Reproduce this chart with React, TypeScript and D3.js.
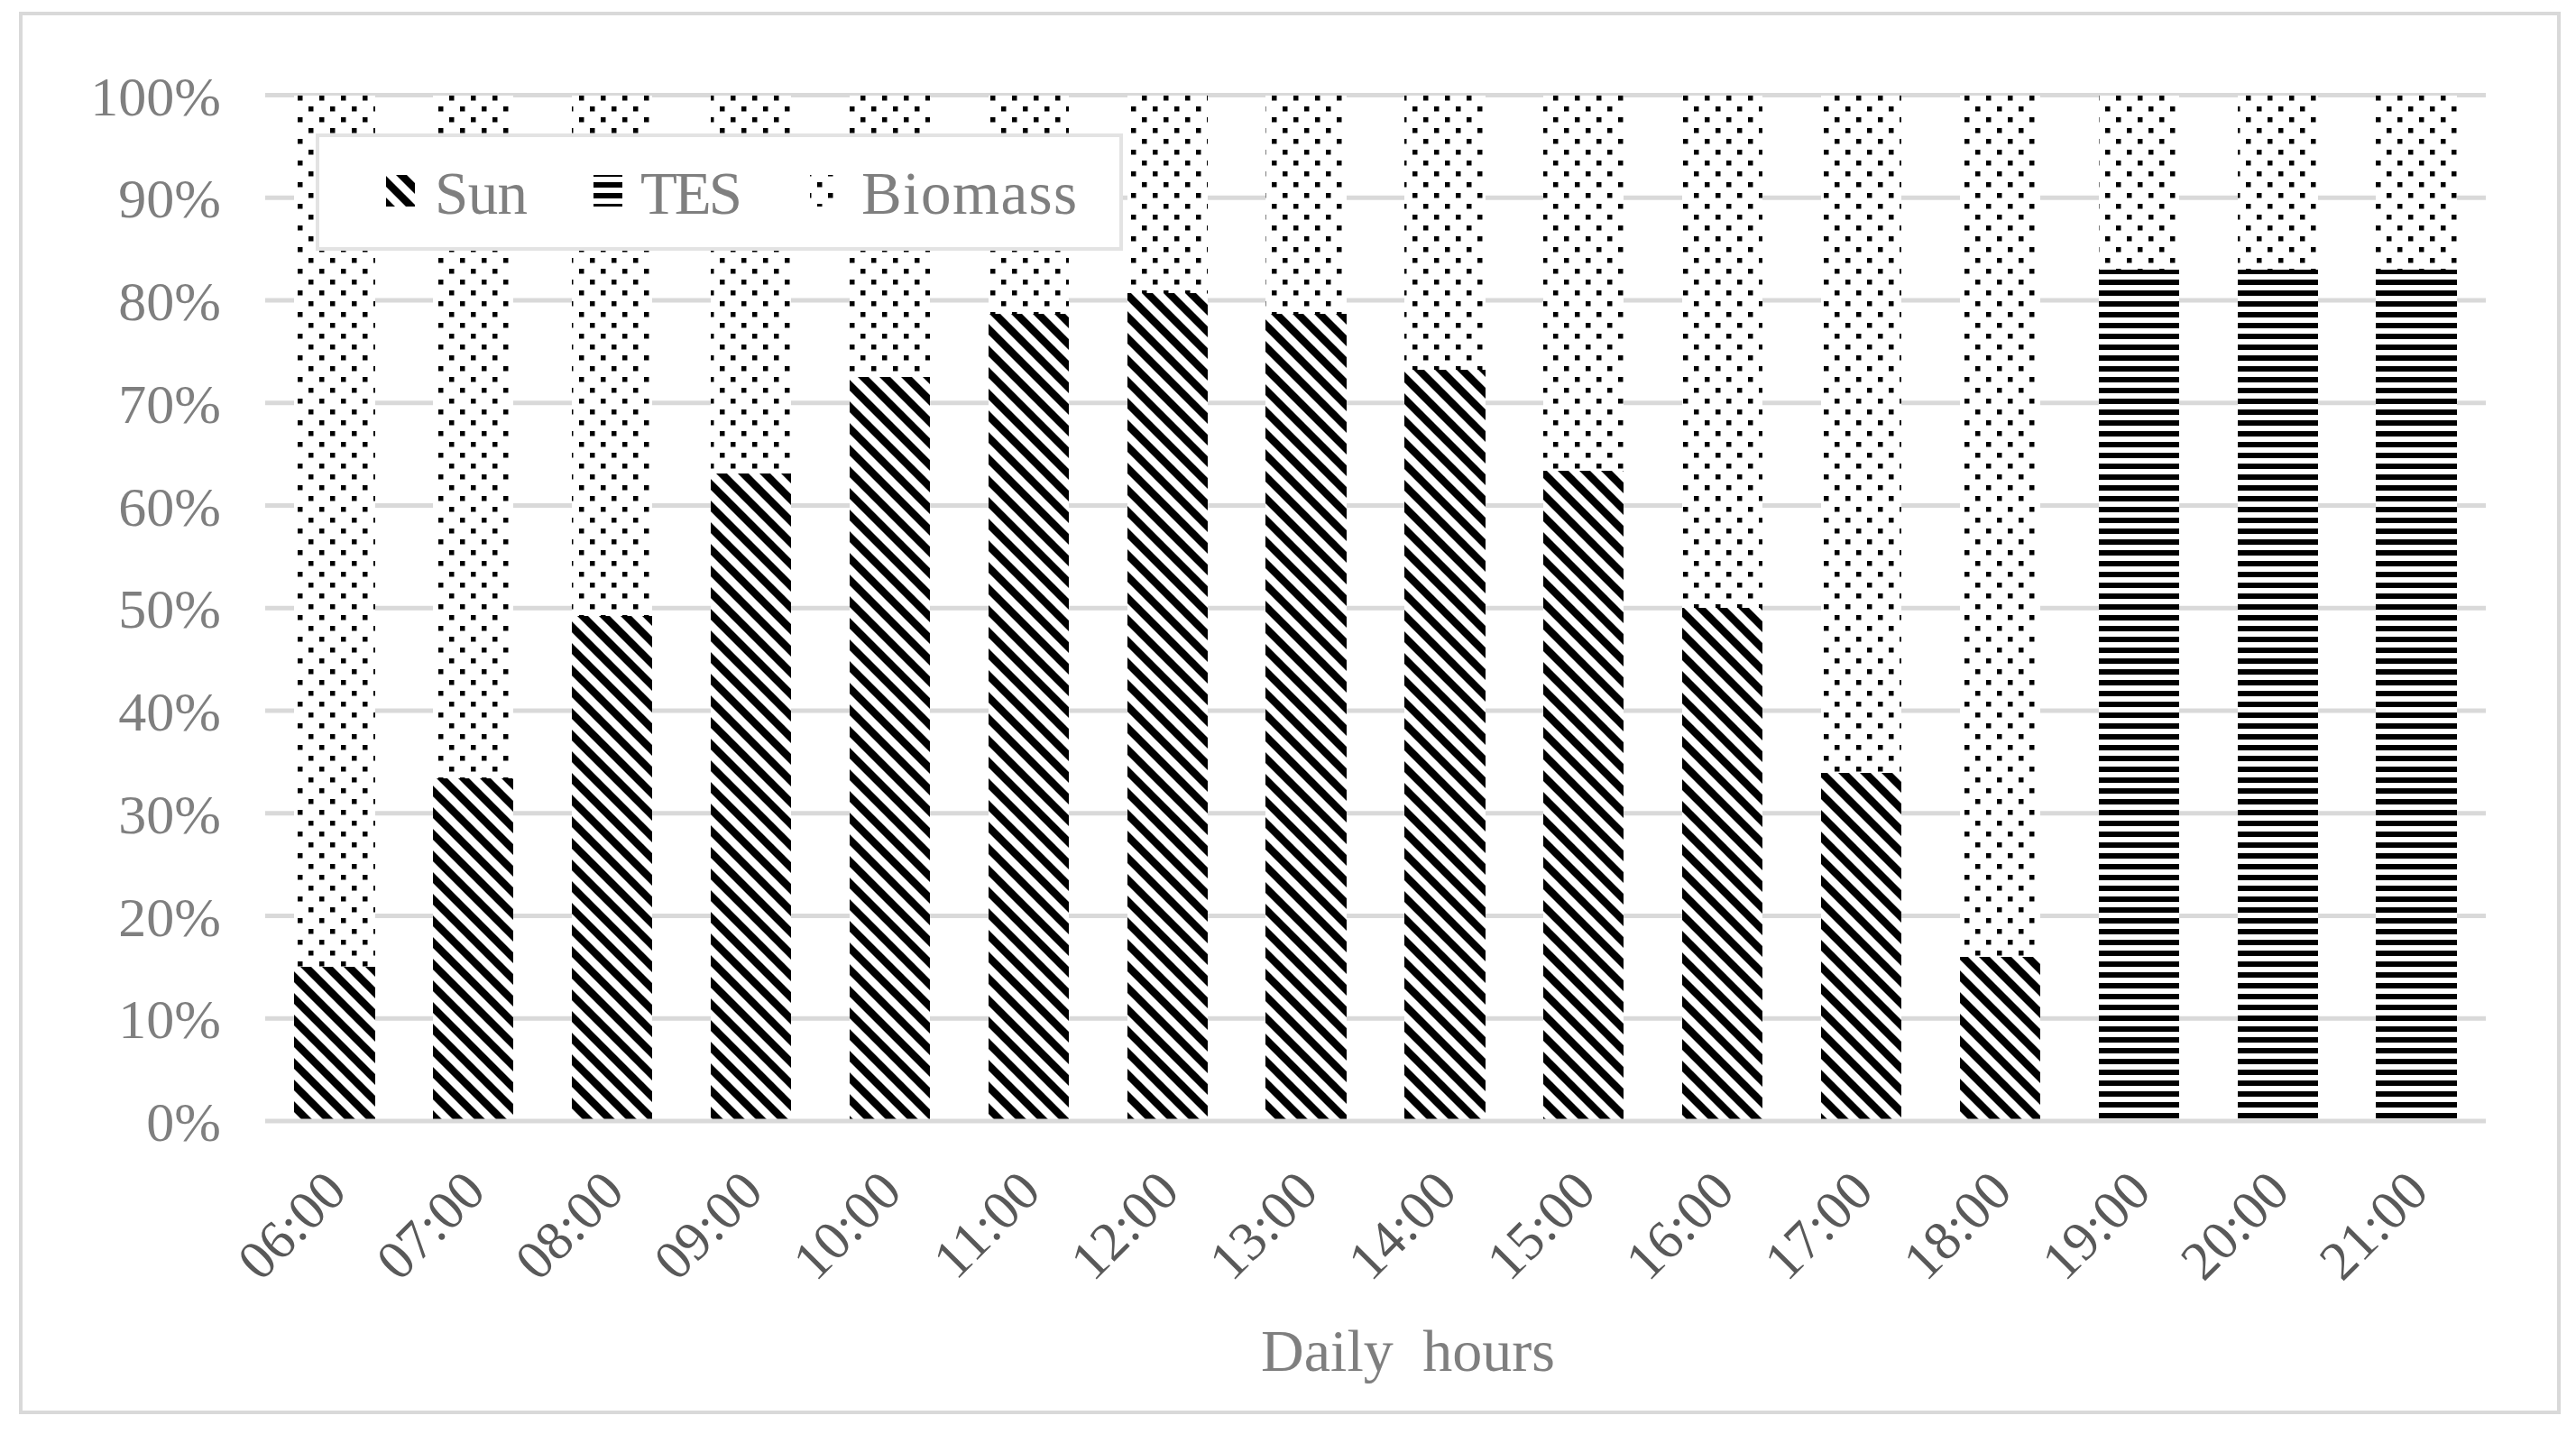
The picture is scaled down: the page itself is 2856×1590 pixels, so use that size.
import React from "react";
import * as d3 from "d3";

const hours = ["06:00", "07:00", "08:00", "09:00", "10:00", "11:00", "12:00", "13:00", "14:00", "15:00", "16:00", "17:00", "18:00", "19:00", "20:00", "21:00"];
const sunShare = [15, 33.4, 49.2, 63.1, 72.5, 78.7, 80.7, 78.7, 73.2, 63.4, 50, 33.9, 16, 0, 0, 0];
const tesShare = [0, 0, 0, 0, 0, 0, 0, 0, 0, 0, 0, 0, 0, 83, 83, 83];
const biomassShare = [85, 66.6, 50.8, 36.9, 27.5, 21.3, 19.3, 21.3, 26.8, 36.6, 50, 66.1, 84, 17, 17, 17];
const yTicks = [0, 10, 20, 30, 40, 50, 60, 70, 80, 90, 100];
const seriesKeys = ["Sun", "TES", "Biomass"];
const seriesPatterns = ["url(#sunPat)", "url(#tesPat)", "url(#bioPat)"];

const W = 2856;
const H = 1590;
const FONT = "'Liberation Serif', 'Times New Roman', serif";

export default function App() {
  const x = d3.scaleBand<string>().domain(hours).range([294, 2756]).paddingInner(0.42).paddingOuter(0.21);
  const y = d3.scaleLinear().domain([0, 100]).range([1243, 105.5]);

  const rows = hours.map((h, i) => ({ hour: h, Sun: sunShare[i], TES: tesShare[i], Biomass: biomassShare[i] }));
  const stacked = d3.stack<any>().keys(seriesKeys)(rows);

  const legendItems = [
    { label: "Sun", icon: 428, text: 482, len: 103 },
    { label: "TES", icon: 658, text: 710, len: 113 },
    { label: "Biomass", icon: 898, text: 955, len: 239 },
  ];

  return (
    <svg width={W} height={H} style={{ position: "absolute", left: 0, top: 0, background: "#fff" }}>
      <defs>
        <pattern id="sunPat" patternUnits="userSpaceOnUse" x={5} y={0} width={24} height={24}>
          <rect width={24} height={24} fill="#fff" />
          <path d="M0,0 L12,0 L24,12 L24,24 Z M0,12 L12,24 L0,24 Z" fill="#000" />
        </pattern>
        <pattern id="tesPat" patternUnits="userSpaceOnUse" x={0} y={10} width={12} height={12}>
          <rect width={12} height={12} fill="#fff" />
          <rect width={12} height={6} fill="#000" />
        </pattern>
        <pattern id="bioPat" patternUnits="userSpaceOnUse" x={6} y={22} width={24} height={24}>
          <rect width={24} height={24} fill="#fff" />
          <rect x={0} y={0} width={5.5} height={5.5} fill="#000" />
          <rect x={12} y={12} width={5.5} height={5.5} fill="#000" />
        </pattern>
      </defs>
      <rect x={0} y={0} width={W} height={H} fill="#fff" />
      <rect x={23} y={15} width={2814} height={1551} fill="#fff" stroke="#d9d9d9" strokeWidth={4} />

      {/* gridlines */}
      {yTicks.filter((t) => t > 0).map((t) => (
        <line key={t} x1={294} x2={2756} y1={y(t)} y2={y(t)} stroke="#d9d9d9" strokeWidth={5} />
      ))}

      {/* bars */}
      {stacked.map((s, si) => (
        <g key={s.key} fill={seriesPatterns[si]}>
          {s.map((d, i) =>
            d[1] - d[0] > 0 ? (
              <rect key={i} x={x(hours[i])} y={y(d[1])} width={x.bandwidth()} height={y(d[0]) - y(d[1])} shapeRendering="crispEdges" />
            ) : null
          )}
        </g>
      ))}

      {/* axis line */}
      <line x1={294} x2={2756} y1={y(0)} y2={y(0)} stroke="#d9d9d9" strokeWidth={5} />

      {/* y tick labels */}
      {yTicks.map((t) => (
        <text key={t} x={245} y={y(t) + 22} textAnchor="end" fontFamily={FONT} fontSize={62} fill="#7f7f7f">
          {t + "%"}
        </text>
      ))}

      {/* x tick labels */}
      {hours.map((h) => (
        <text
          key={h}
          transform={`translate(${(x(h) as number) + x.bandwidth() / 2 + 16},1324) rotate(-45)`}
          textAnchor="end"
          fontFamily={FONT}
          fontSize={61}
          fill="#595959"
        >
          {h}
        </text>
      ))}

      {/* x axis title */}
      <text x={1561} y={1520} textAnchor="middle" fontFamily={FONT} fontSize={66} fill="#7f7f7f" wordSpacing={16}>
        Daily hours
      </text>

      {/* legend */}
      <rect x={352} y={150} width={891} height={126} fill="#fff" stroke="#e3e3e3" strokeWidth={4} />
      {legendItems.map((it, i) => (
        <g key={it.label}>
          <rect x={it.icon} y={194} width={32} height={35} fill={seriesPatterns[i]} shapeRendering="crispEdges" />
          <text x={it.text} y={237} fontFamily={FONT} fontSize={67} fill="#7f7f7f" textLength={it.len} lengthAdjust="spacing">
            {it.label}
          </text>
        </g>
      ))}
    </svg>
  );
}
